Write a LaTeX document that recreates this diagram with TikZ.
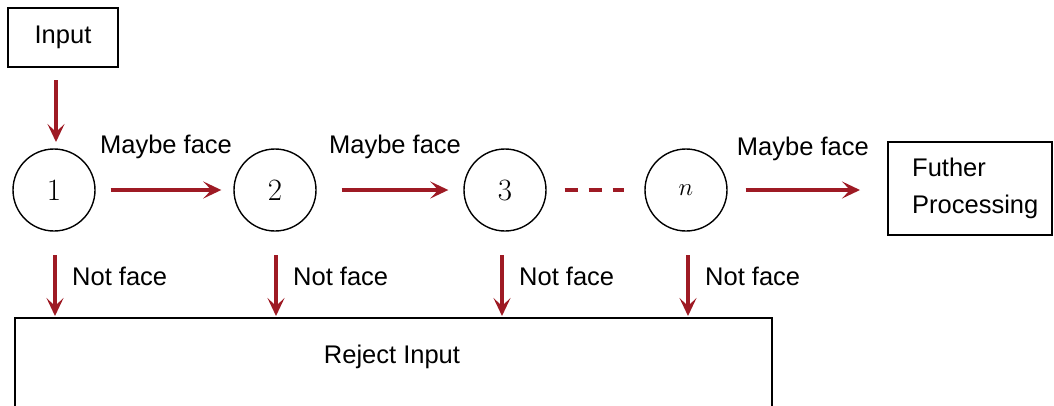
\documentclass[tikz,border=0pt]{standalone}
\usepackage{fontspec}
\setmainfont{Liberation Sans}
\newfontfamily\numfont{Latin Modern Roman}
\usetikzlibrary{arrows.meta}
\definecolor{arrowred}{RGB}{158,26,36}
\tikzset{
  x=1pt, y=-1pt,
  box/.style={draw=black, line width=1.4pt, inner sep=0pt},
  stage/.style={draw=black, line width=1.4pt, circle, minimum size=82pt, inner sep=0pt,
                font=\fontsize{31}{31}\selectfont\numfont},
  flow/.style={draw=arrowred, line width=3.2pt,
               -{Stealth[length=18pt, width=17pt, inset=8pt]}},
  lbl/.style={font=\fontsize{25.5}{25.5}\selectfont, inner sep=0pt}
}
\begin{document}
\begin{tikzpicture}
\useasboundingbox (0,0) rectangle (1054,405);
\fill[white] (0,0) rectangle (1054,405);

% boxes
\draw[box] (8,8) rectangle (118,67);
\node[lbl] (input) at (63,37) {Input};

\draw[box] (888,142) rectangle (1052,235);
\node[lbl, anchor=west, align=left, font=\fontsize{25.5}{37}\selectfont] (further) at (912,188) {Futher\\Processing};
\coordinate (furtherW) at (888,190);

\draw[box] (15,318) rectangle (772,420);
\node[lbl] (reject) at (392,357) {Reject Input};

% stages
\node[stage] (s1) at (54,190) {1};
\node[stage] (s2) at (275,190) {2};
\node[stage] (s3) at (505,190) {3};
\node[stage] (sn) at (686,190) {$n$};

% input arrow
\coordinate (a0) at (56,80);
\coordinate (a1) at (56,142);
\draw[flow] (a0) -- (a1);

% maybe-face arrows
\draw[flow] ([xshift=15pt]s1.east) -- ([xshift=-12pt]s2.west)
  node[lbl, midway, above=30pt] {Maybe face};
\draw[flow] ([xshift=25pt]s2.east) -- ([xshift=-15pt]s3.west)
  node[lbl, midway, above=30pt] {Maybe face};
\draw[arrowred, line width=3.2pt, dash pattern=on 13pt off 11pt] ([xshift=18pt]s3.east) -- ([xshift=-20pt]sn.west);
\draw[flow] ([xshift=18pt]sn.east) -- ([xshift=-28pt]furtherW)
  node[lbl, midway, above=28pt] {Maybe face};

% not-face arrows
\foreach \s/\x in {s1/55, s2/276, s3/502, sn/688} {
  \coordinate (\s t) at (\x,255);
  \coordinate (\s b) at (\x,316);
  \draw[flow] (\s t) -- (\s b);
  \node[lbl, anchor=west] (\s lbl) at (\x+17,276) {Not face};
}
\end{tikzpicture}
\end{document}
